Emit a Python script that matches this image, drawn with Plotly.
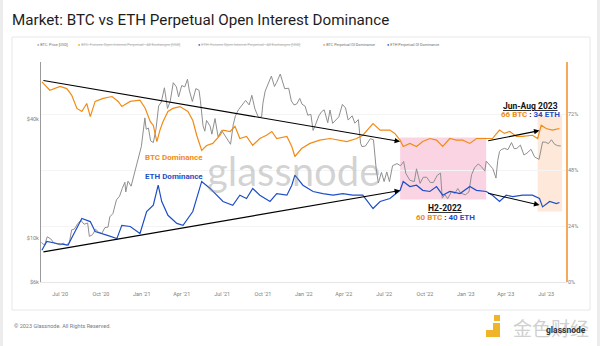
import plotly.graph_objects as go

# ---- data -----------------------------------------------------------------
btc_price_dates = [
    "2020-05-20", "2020-05-27", "2020-06-02", "2020-06-10", "2020-06-17", "2020-06-24",
    "2020-07-01", "2020-07-08", "2020-07-15", "2020-07-22", "2020-07-27", "2020-08-02",
    "2020-08-10", "2020-08-17", "2020-08-24", "2020-09-01", "2020-09-05", "2020-09-12",
    "2020-09-19", "2020-09-26", "2020-10-03", "2020-10-10", "2020-10-17", "2020-10-21",
    "2020-10-28", "2020-11-05", "2020-11-12", "2020-11-18", "2020-11-24", "2020-11-26",
    "2020-12-01", "2020-12-08", "2020-12-16", "2020-12-20", "2020-12-27", "2020-12-31",
    "2021-01-03", "2021-01-08", "2021-01-11", "2021-01-16", "2021-01-21", "2021-01-27",
    "2021-02-02", "2021-02-08", "2021-02-14", "2021-02-21", "2021-02-28", "2021-03-06",
    "2021-03-13", "2021-03-20", "2021-03-25", "2021-04-01", "2021-04-08", "2021-04-14",
    "2021-04-18", "2021-04-25", "2021-05-03", "2021-05-10", "2021-05-13", "2021-05-19",
    "2021-05-23", "2021-05-27", "2021-06-04", "2021-06-08", "2021-06-15", "2021-06-22",
    "2021-06-30", "2021-07-08", "2021-07-20", "2021-07-26", "2021-07-31", "2021-08-07",
    "2021-08-14", "2021-08-23", "2021-08-31", "2021-09-06", "2021-09-13", "2021-09-21",
    "2021-09-28", "2021-10-01", "2021-10-06", "2021-10-15", "2021-10-20", "2021-10-27",
    "2021-11-01", "2021-11-09", "2021-11-16", "2021-11-19", "2021-11-28", "2021-12-04",
    "2021-12-10", "2021-12-16", "2021-12-23", "2021-12-28", "2022-01-04", "2022-01-10",
    "2022-01-17", "2022-01-22", "2022-01-28", "2022-02-04", "2022-02-10", "2022-02-16",
    "2022-02-24", "2022-03-01", "2022-03-07", "2022-03-14", "2022-03-21", "2022-03-29",
    "2022-04-05", "2022-04-11", "2022-04-20", "2022-04-26", "2022-05-04", "2022-05-09",
    "2022-05-12", "2022-05-20", "2022-05-31", "2022-06-07", "2022-06-13", "2022-06-18",
    "2022-06-25", "2022-07-01", "2022-07-07", "2022-07-13", "2022-07-20", "2022-07-30",
    "2022-08-07", "2022-08-14", "2022-08-19", "2022-08-28", "2022-09-07", "2022-09-12",
    "2022-09-20", "2022-09-27", "2022-10-05", "2022-10-13", "2022-10-20", "2022-10-29",
    "2022-11-05", "2022-11-09", "2022-11-15", "2022-11-21", "2022-11-30", "2022-12-07",
    "2022-12-14", "2022-12-20", "2022-12-31", "2023-01-08", "2023-01-14", "2023-01-21",
    "2023-01-29", "2023-02-05", "2023-02-13", "2023-02-16", "2023-02-24", "2023-03-03",
    "2023-03-10", "2023-03-14", "2023-03-18", "2023-03-22", "2023-03-29", "2023-04-06",
    "2023-04-14", "2023-04-20", "2023-04-26", "2023-05-04", "2023-05-12", "2023-05-19",
    "2023-05-28", "2023-06-05", "2023-06-15", "2023-06-23", "2023-06-30", "2023-07-06",
    "2023-07-13", "2023-07-20", "2023-07-27", "2023-08-03",
]
btc_price = [
    9500, 9200, 10150, 9900, 9450, 9300,
    9230, 9430, 9200, 9530, 11000, 11100,
    11850, 12300, 11750, 11920, 10200, 10400,
    11080, 10700, 10550, 11300, 11360, 12800,
    13300, 15600, 16300, 17800, 19150, 17100,
    19400, 18300, 21300, 23500, 26500, 29000,
    32800, 40500, 35500, 36000, 31000, 30400,
    35500, 46500, 48700, 57500, 45200, 49000,
    61000, 58100, 51700, 59000, 58100, 63500,
    56000, 49000, 57000, 55800, 49700, 37000,
    34700, 39300, 36800, 33500, 40200, 32500,
    35000, 32800, 29800, 37300, 41500, 44600,
    47000, 49600, 47100, 52700, 44900, 40700,
    41000, 48100, 55300, 61600, 65900, 58400,
    61300, 67500, 60300, 56900, 57200, 49300,
    47100, 47600, 50800, 47500, 46400, 41800,
    42200, 35000, 37700, 41500, 43500, 44500,
    38300, 44400, 38000, 39700, 41000, 47400,
    45500, 39500, 41500, 38100, 39700, 30100,
    29000, 29200, 31800, 31400, 22500, 19000,
    21500, 19300, 21600, 19300, 23200, 23800,
    23200, 24400, 21200, 19600, 19300, 22400,
    18900, 20300, 20300, 19100, 19100, 20800,
    21300, 15900, 16600, 15800, 17200, 16800,
    17800, 16900, 16550, 17100, 20900, 22700,
    23700, 23000, 21800, 24500, 23200, 22400,
    20100, 24700, 27400, 28000, 28400, 28000,
    30400, 28300, 28400, 29500, 26300, 26900,
    28100, 25700, 25000, 30600, 30500, 30000,
    31400, 29800, 29300, 29200,
]

btc_dom_dates = [
    "2020-05-21", "2020-06-08", "2020-07-01", "2020-07-16", "2020-07-27", "2020-08-08",
    "2020-08-19", "2020-08-30", "2020-09-07", "2020-09-18", "2020-10-06", "2020-10-26",
    "2020-11-09", "2020-11-17", "2020-12-06", "2020-12-28", "2021-01-09", "2021-01-20",
    "2021-01-27", "2021-02-04", "2021-02-11", "2021-02-18", "2021-03-01", "2021-03-12",
    "2021-03-28", "2021-04-15", "2021-04-26", "2021-05-05", "2021-05-16", "2021-05-27",
    "2021-06-10", "2021-06-26", "2021-07-03", "2021-07-19", "2021-07-30", "2021-08-10",
    "2021-08-25", "2021-09-08", "2021-09-24", "2021-10-09", "2021-10-21", "2021-11-01",
    "2021-11-24", "2021-12-05", "2021-12-12", "2021-12-27", "2022-01-15", "2022-02-06",
    "2022-03-01", "2022-03-23", "2022-04-08", "2022-04-30", "2022-05-14", "2022-06-06",
    "2022-06-22", "2022-07-14", "2022-07-25", "2022-08-06", "2022-08-13", "2022-08-28",
    "2022-09-12", "2022-09-26", "2022-10-12", "2022-10-27", "2022-11-10", "2022-11-26",
    "2022-12-11", "2022-12-25", "2023-01-10", "2023-01-25", "2023-02-16", "2023-03-02",
    "2023-03-18", "2023-03-29", "2023-04-10", "2023-04-25", "2023-05-09", "2023-05-31",
    "2023-06-12", "2023-06-20", "2023-07-01", "2023-07-15", "2023-07-31",
]
btc_dom = [
    85.8, 82.2, 83.8, 82.9, 80.1, 74.4,
    73.1, 76.5, 70.9, 77.4, 78.7, 79.5,
    77.4, 75.2, 77.4, 77.9, 74.4, 68.8,
    67.1, 60.2, 65.1, 68.8, 73.1, 74.4,
    75.2, 73.1, 69.2, 62.8, 56.4, 58.5,
    59.4, 62.8, 65.1, 64.5, 66.7, 61.5,
    62.4, 58.6, 61.5, 62.9, 64.5, 61.5,
    62.4, 58.1, 53.8, 57.2, 59.4, 60.8,
    61.5, 60.8, 60.2, 61.5, 62.9, 67.9,
    65.1, 65.1, 63.7, 60.8, 58.1, 59.4,
    58.1, 60.2, 61.5, 60.8, 58.1, 61.5,
    60.8, 60.8, 59.4, 61.5, 61.5, 61.5,
    65.1, 63.7, 64.5, 62.4, 62.4, 62.9,
    61.5, 67.2, 65.8, 65.1, 65.8,
]

eth_dom_dates = [
    "2020-05-21", "2020-06-01", "2020-06-24", "2020-07-19", "2020-07-30", "2020-08-19",
    "2020-09-07", "2020-09-18", "2020-10-14", "2020-11-06", "2020-11-17", "2020-12-06",
    "2020-12-28", "2021-01-12", "2021-01-27", "2021-02-07", "2021-02-15", "2021-03-01",
    "2021-03-21", "2021-04-04", "2021-04-26", "2021-05-05", "2021-05-16", "2021-06-04",
    "2021-06-19", "2021-07-03", "2021-07-25", "2021-08-10", "2021-08-25", "2021-09-08",
    "2021-09-24", "2021-10-17", "2021-11-01", "2021-11-24", "2021-12-05", "2021-12-12",
    "2021-12-30", "2022-01-22", "2022-02-13", "2022-03-08", "2022-03-30", "2022-04-21",
    "2022-05-14", "2022-06-06", "2022-06-22", "2022-07-14", "2022-08-06", "2022-08-13",
    "2022-08-28", "2022-09-12", "2022-09-26", "2022-10-12", "2022-10-27", "2022-11-10",
    "2022-11-26", "2022-12-19", "2023-01-10", "2023-01-25", "2023-02-16", "2023-03-02",
    "2023-03-18", "2023-04-02", "2023-04-17", "2023-05-09", "2023-05-31", "2023-06-16",
    "2023-06-23", "2023-07-09", "2023-07-24", "2023-07-31",
]
eth_dom = [
    13.6, 17.4, 16.5, 15.8, 19.9, 27.2,
    25.9, 21.6, 20.1, 18.6, 24.3, 23.8,
    20.8, 30.2, 32.9, 41.5, 34.5, 28.6,
    25.1, 24.3, 30.2, 35.8, 43.1, 40.1,
    37.2, 34.5, 32.9, 37.2, 35.8, 40.1,
    37.2, 34.5, 37.9, 37.2, 41.5, 45.8,
    41.5, 38.8, 37.9, 37.2, 37.9, 37.2,
    37.2, 31.5, 34.5, 35.8, 39.3, 43.1,
    40.9, 41.5, 39.3, 38.8, 40.9, 37.2,
    38.8, 37.9, 40.9, 39.3, 38.8, 37.2,
    34.5, 37.2, 36.6, 37.2, 37.2, 35.8,
    32.2, 34.5, 33.6, 34.1,
]

price_tick_vals = [6000, 10000, 40000]
price_tick_text = ["$6k", "$10k", "$40k"]
dom_tick_vals = [0, 24, 48, 72]
dom_tick_text = ["0%", "24%", "48%", "72%"]

legend_items = [
    ("#9a9a9a", "BTC: Price [USD]", False),
    ("#f7931a", "BTC: Futures Open Interest Perpetual - All Exchanges [USD]", True),
    ("#2450c8", "ETH: Futures Open Interest Perpetual - All Exchanges [USD]", True),
    ("#f7931a", "BTC Perpetual OI Dominance", False),
    ("#2450c8", "ETH Perpetual OI Dominance", False),
]

# ---- styling ----------------------------------------------------------------
GREY = "#8f8f8f"
ORANGE = "#f28b16"
BLUE = "#1f4fc6"
W, H = 600, 346
L, R, T, B = 41, 33, 62, 64
F = "Roboto"


def px_x(px):
    return (px - L) / (W - L - R)


def px_y(py):
    return (H - B - py) / (H - T - B)


def label(px, py, text, size, color, xanchor="center", family=F):
    return dict(x=px_x(px), y=px_y(py), xref="paper", yref="paper",
                showarrow=False, xanchor=xanchor, yanchor="middle",
                text=text, font=dict(family=family, size=size, color=color))


fig = go.Figure()
fig.add_trace(go.Scatter(x=btc_price_dates, y=btc_price, mode="lines",
                         line=dict(color=GREY, width=1), yaxis="y",
                         name="BTC: Price [USD]", showlegend=False))
fig.add_trace(go.Scatter(x=btc_dom_dates, y=btc_dom, mode="lines",
                         line=dict(color=ORANGE, width=1.2), yaxis="y2",
                         name="BTC Perpetual OI Dominance", showlegend=False))
fig.add_trace(go.Scatter(x=eth_dom_dates, y=eth_dom, mode="lines",
                         line=dict(color=BLUE, width=1.2), yaxis="y2",
                         name="ETH Perpetual OI Dominance", showlegend=False))

shapes = [
    # card frame
    dict(type="rect", xref="paper", yref="paper", x0=px_x(12), x1=px_x(590),
         y0=px_y(310), y1=px_y(37), line=dict(color="#e8e8e8", width=1), layer="below"),
    # page edges
    dict(type="line", xref="paper", yref="paper", x0=px_x(1.5), x1=px_x(1.5),
         y0=px_y(346), y1=px_y(0), line=dict(color="#ececec", width=3), layer="below"),
    dict(type="line", xref="paper", yref="paper", x0=px_x(598.5), x1=px_x(598.5),
         y0=px_y(346), y1=px_y(0), line=dict(color="#ececec", width=3), layer="below"),
    # H2-2022 highlight
    dict(type="rect", xref="x", yref="y2", x0="2022-08-06", x1="2023-02-16",
         y0=35.4, y1=61.9, fillcolor="rgba(244,120,170,0.32)", line=dict(width=0),
         layer="below"),
    # Jun-Aug 2023 highlight
    dict(type="rect", xref="x", yref="y2", x0="2023-06-12", x1="2023-08-06",
         y0=30.2, y1=71.4, fillcolor="rgba(250,180,130,0.30)", line=dict(width=0),
         layer="below"),
    # right axis line
    dict(type="line", xref="paper", yref="paper", x0=1, x1=1, y0=0, y1=1,
         line=dict(color="#f5a04a", width=1.8)),
]

ann = []
# trend lines with arrow heads
for (x0, y0, x1, y1) in [
    ("2020-05-21", 86.5, "2022-08-06", 60.2),
    ("2020-05-21", 12.8, "2022-08-06", 39.2),
    ("2023-02-17", 60.4, "2023-06-16", 64.9),
    ("2023-02-17", 38.2, "2023-06-16", 33.0),
]:
    ann.append(dict(x=x1, y=y1, ax=x0, ay=y0, xref="x", yref="y2",
                    axref="x", ayref="y2", text="", showarrow=True,
                    arrowhead=2, arrowsize=1, arrowwidth=1.1, arrowcolor="#000",
                    standoff=0, startstandoff=0))

ann += [
    label(174, 157.7, "<b>BTC Dominance</b>", 8, ORANGE),
    label(174, 176, "<b>ETH Dominance</b>", 8, BLUE),
    label(530, 105.5, "<b><span style='text-decoration:underline'>Jun-Aug 2023</span></b>",
          8.5, "#111"),
    label(530, 114.5, f"<b><span style='color:{ORANGE}'>66 BTC</span> : "
                      f"<span style='color:{BLUE}'>34 ETH</span></b>", 8, "#111"),
    label(445, 208, "<b><span style='text-decoration:underline'>H2-2022</span></b>",
          8.5, "#111"),
    label(445, 217.5, f"<b><span style='color:{ORANGE}'>60 BTC</span> : "
                      f"<span style='color:{BLUE}'>40 ETH</span></b>", 8, "#111"),
    # watermark
    label(293, 171, "glassnode", 40, "rgba(140,140,140,0.38)", family="Lato"),
    # footer
    label(12, 326, "© 2023 Glassnode. All Rights Reserved.", 5.5, "#7a7a7a", xanchor="left"),
]

# legend row
legend_x = [35, 76, 196, 321, 385]
for (col, text, off), lx in zip(legend_items, legend_x):
    tcol = "#b0b0b0" if off else "#707070"
    if off:
        text = f"<span style='text-decoration:line-through'>{text}</span>"
    ann.append(label(lx, 45, f"<span style='color:{col}'>●</span> {text}", 3.8, tcol,
                     xanchor="left"))

# bottom-right branding
shapes += [
    dict(type="rect", xref="paper", yref="paper", x0=px_x(494), x1=px_x(500),
         y0=px_y(321), y1=px_y(315), fillcolor="#f0b429", line=dict(width=0)),
    dict(type="path", xref="paper", yref="paper",
         path=(f"M {px_x(486)} {px_y(337)} L {px_x(500)} {px_y(337)} L {px_x(500)} {px_y(323)} "
               f"L {px_x(493)} {px_y(323)} L {px_x(493)} {px_y(330)} L {px_x(486)} {px_y(330)} Z"),
         fillcolor="#f0b429", line=dict(width=0)),
]
ann += [
    label(551, 327, "金色财经", 19, "#d0d0d0", family="Noto Sans CJK SC"),
    label(566, 330, "<b>glassnode</b>", 8.5, "#333"),
]

fig.update_layout(
    width=W, height=H,
    margin=dict(l=L, r=R, t=T, b=B),
    paper_bgcolor="white", plot_bgcolor="white",
    showlegend=False,
    title=dict(text="Market: BTC vs ETH Perpetual Open Interest Dominance",
               x=12 / W, xref="container", xanchor="left",
               y=1 - 19.5 / H, yref="container", yanchor="middle",
               font=dict(family=F, size=15.2, color="#1d1d1d")),
    xaxis=dict(type="date", range=["2020-05-19", "2023-08-17"],
               tick0="2020-07-01", dtick="M3", tickformat="%b '%y",
               showgrid=False, showline=True, linecolor="#e6e6e6", ticks="",
               ticklabelstandoff=6,
               tickfont=dict(family=F, size=5.5, color="#808080")),
    yaxis=dict(type="log", range=[3.778, 4.890], tickvals=price_tick_vals,
               ticktext=price_tick_text, showgrid=False, zeroline=False,
               showline=True, linecolor="#9a9a9a", linewidth=1, ticks="",
               tickfont=dict(family=F, size=5.5, color="#808080")),
    yaxis2=dict(overlaying="y", side="right", range=[0, 94.3],
                tickvals=dom_tick_vals, ticktext=dom_tick_text,
                showgrid=True, gridcolor="#f4f4f4", zeroline=False, ticks="",
                tickfont=dict(family=F, size=5.5, color="#808080")),
    shapes=shapes,
    annotations=ann,
)

fig.write_html("out.html")
